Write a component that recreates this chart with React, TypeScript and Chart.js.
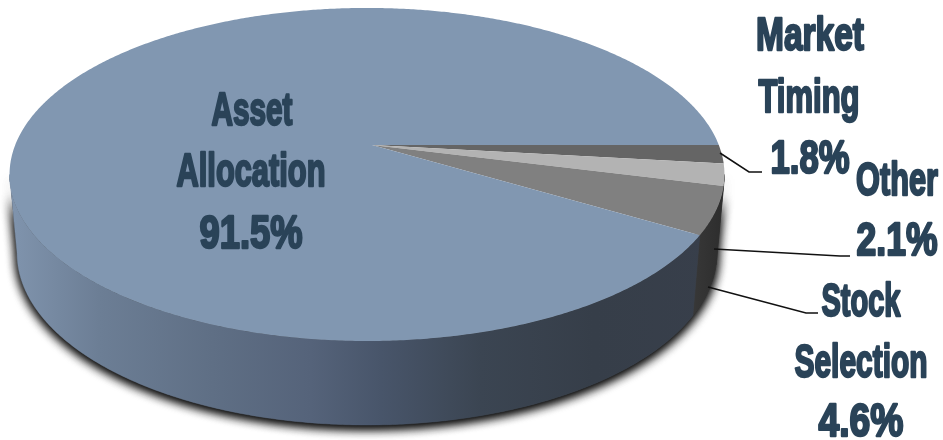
import { useEffect, useRef } from "react";
import { Chart, registerables } from "chart.js";

Chart.register(...registerables);

// Share of return variation by source, clockwise from the three o'clock position.
const categories = ["Market Timing", "Other", "Stock Selection", "Asset Allocation"];
const shares = [1.8, 2.1, 4.6, 91.5];
const topColors = ["#656565", "#b3b3b3", "#808080", "#8197b1"];

const WIDTH = 943;
const HEIGHT = 440;
const INK = "#2a4358";

// Perspective planes of the disc: screen = origin + (A cos t, B sin t) / (1 - K sin t).
const K = 0.177;
const topPlane = { x: 367, y: 145, a: 351.8, b: 161.3 };
const basePlane = { x: 367, y: 222.6, a: 344.4, b: 166.6 };
const APEX = { x: 372, y: 145 };

// Where the rim is tangent to the silhouette; only this span of the wall faces the viewer.
const WALL_FROM = Math.asin(K);
const WALL_TO = Math.PI - Math.asin(K);

// Text placement: centre x, baseline y and fitted width of each line, per category.
const labelLines = [
  [[810, 50, 108], [809, 112, 101], [810, 173, 79]],
  [[897, 195, 82], [897, 255, 81]],
  [[861, 316, 79], [861, 377, 133], [861, 436, 85]],
  [[252, 125, 81], [251, 186, 149], [251, 248, 103]],
];

// Leader lines from the slices out to their labels.
const leaders = [
  [[720, 153], [749, 172], [762, 172]],
  [[714, 249], [840, 256], [850, 256]],
  [[708, 287], [806, 313], [818, 313]],
];

type Plane = { x: number; y: number; a: number; b: number };

function project(p: Plane, t: number): [number, number] {
  const w = 1 - K * Math.sin(t);
  return [p.x + (p.a * Math.cos(t)) / w, p.y + (p.b * Math.sin(t)) / w];
}

function traceArc(ctx: CanvasRenderingContext2D, p: Plane, from: number, to: number) {
  const steps = Math.max(2, Math.ceil(Math.abs(to - from) / 0.008));
  for (let i = 0; i <= steps; i++) {
    const [x, y] = project(p, from + ((to - from) * i) / steps);
    ctx.lineTo(x, y);
  }
}

function wallPath(ctx: CanvasRenderingContext2D, from: number, to: number) {
  ctx.beginPath();
  traceArc(ctx, topPlane, from, to);
  traceArc(ctx, basePlane, to, from);
  ctx.closePath();
}

function wallFill(ctx: CanvasRenderingContext2D, index: number) {
  const g = ctx.createLinearGradient(15, 0, 720, 0);
  if (index === 3) {
    g.addColorStop(0, "#7f93ac");
    g.addColorStop(0.12, "#6c7e95");
    g.addColorStop(0.28, "#5f6f85");
    g.addColorStop(0.42, "#55637a");
    g.addColorStop(0.52, "#48556a");
    g.addColorStop(0.66, "#3b4552");
    g.addColorStop(0.82, "#363e49");
    g.addColorStop(1, "#383f4b");
  } else {
    g.addColorStop(0, "#383838");
    g.addColorStop(0.96, "#383838");
    g.addColorStop(1, "#2e2e2e");
  }
  return g;
}

// Replaces the flat arcs with a tilted disc built from the arc angles Chart.js computed.
const discPlugin = {
  id: "disc",
  beforeDatasetsDraw(chart: Chart) {
    const ctx = chart.ctx;
    const arcs = chart.getDatasetMeta(0).data as any[];

    ctx.save();
    ctx.shadowColor = "rgba(0,0,0,0.95)";
    ctx.shadowBlur = 11;
    ctx.shadowOffsetY = 3;
    ctx.fillStyle = "#444444";
    wallPath(ctx, WALL_FROM, WALL_TO);
    ctx.fill();
    ctx.fill();
    ctx.restore();

    arcs.forEach((arc, i) => {
      const from = Math.max(arc.startAngle, WALL_FROM);
      const to = Math.min(arc.endAngle, WALL_TO);
      if (to <= from) return;
      wallPath(ctx, from, to);
      ctx.fillStyle = wallFill(ctx, i);
      ctx.fill();
      ctx.strokeStyle = ctx.fillStyle;
      ctx.lineWidth = 0.5;
      ctx.stroke();
    });

    arcs.forEach((arc, i) => {
      ctx.beginPath();
      ctx.moveTo(APEX.x, APEX.y);
      traceArc(ctx, topPlane, arc.startAngle, arc.endAngle);
      ctx.closePath();
      ctx.fillStyle = topColors[i];
      ctx.fill();
    });
    return false;
  },
  afterDraw(chart: Chart) {
    const ctx = chart.ctx;
    ctx.save();
    ctx.strokeStyle = "#111111";
    ctx.lineWidth = 1.5;
    leaders.forEach((pts) => {
      ctx.beginPath();
      pts.forEach(([x, y]) => ctx.lineTo(x, y));
      ctx.stroke();
    });

    // The stroke thickens the condensed letters to a heavy display weight.
    ctx.fillStyle = INK;
    ctx.strokeStyle = INK;
    ctx.lineWidth = 2.4;
    ctx.lineJoin = "round";
    ctx.font = 'bold 46px "Liberation Sans"';
    ctx.textAlign = "left";
    ctx.textBaseline = "alphabetic";
    categories.forEach((name, i) => {
      const text = [...name.split(" "), `${shares[i]}%`];
      text.forEach((line, j) => {
        const [cx, base, width] = labelLines[i][j];
        const natural = ctx.measureText(line).width;
        ctx.save();
        ctx.translate(cx - width / 2, base);
        ctx.scale(width / natural, 1);
        ctx.fillText(line, 0, 0);
        ctx.strokeText(line, 0, 0);
        ctx.restore();
      });
    });
    ctx.restore();
  },
};

export default function App() {
  const ref = useRef<HTMLCanvasElement>(null);

  useEffect(() => {
    const chart = new Chart(ref.current!, {
      type: "pie",
      data: {
        labels: categories,
        datasets: [{ data: shares, backgroundColor: topColors, borderWidth: 0 }],
      },
      options: {
        responsive: false,
        animation: false,
        rotation: 90,
        plugins: { legend: { display: false }, tooltip: { enabled: false } },
      },
      plugins: [discPlugin],
    });
    return () => chart.destroy();
  }, []);

  return (
    <div style={{ position: "absolute", left: 0, top: 0, width: WIDTH, height: HEIGHT, background: "#ffffff" }}>
      <canvas ref={ref} width={WIDTH} height={HEIGHT} style={{ display: "block" }} />
    </div>
  );
}
